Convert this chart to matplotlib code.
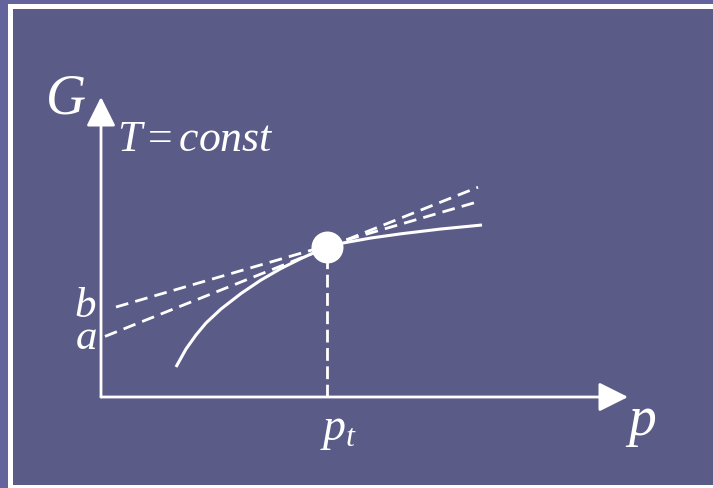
import matplotlib
matplotlib.use("Agg")
import matplotlib.pyplot as plt
from matplotlib.patches import Rectangle

plt.rcParams["mathtext.fontset"] = "custom"
plt.rcParams["mathtext.rm"] = "Liberation Serif"
plt.rcParams["mathtext.it"] = "Liberation Serif:italic"
plt.rcParams["font.family"] = ["Liberation Serif", "DejaVu Serif"]

# Schematic G(p) isotherm and two tangent-type straight lines
curve_p = [0.75, 0.85, 0.95, 1.05, 1.20, 1.40, 1.60, 1.80, 2.00, 2.26,
           2.42, 2.70, 3.00, 3.40, 3.81]
curve_G = [0.30, 0.48, 0.62, 0.74, 0.88, 1.035, 1.17, 1.285, 1.385, 1.50,
           1.54, 1.59, 1.632, 1.68, 1.72]

p_t, G_t = 2.26, 1.50

line_a_p = [0.04, 3.77]
line_a_G = [0.59 + 0.40 * 0.04, 0.59 + 0.40 * 3.77]
line_b_p = [0.15, 3.76]
line_b_G = [0.856 + 0.291 * 0.15, 0.856 + 0.291 * 3.76]

p_axis_end, G_axis_end = 5.27, 3.0

bg = "#5b5b88"
fig = plt.figure(figsize=(7.13, 4.89), dpi=100, facecolor="#64649c")
frame = Rectangle((9.5 / 713, 1.5 / 489), 1.05, 1 - 8 / 489,
                  transform=fig.transFigure, facecolor=bg,
                  edgecolor="white", lw=3.6, zorder=-10)
fig.patches.append(frame)

ax = fig.add_axes([0, 0, 1, 1], zorder=5)
ax.set_xlim(-1.01, 6.12)
ax.set_ylim(-0.91, 3.98)
ax.axis("off")
ax.patch.set_alpha(0)

arrow = dict(arrowstyle="-|>,head_length=0.4,head_width=0.2", lw=2,
             color="white", mutation_scale=45, shrinkA=0, shrinkB=0)
ax.annotate("", xy=(p_axis_end, 0), xytext=(0, 0), arrowprops=arrow)
ax.annotate("", xy=(0, G_axis_end), xytext=(0, 0), arrowprops=arrow)

ax.plot(curve_p, curve_G, color="white", lw=2.2, solid_capstyle="butt",
        solid_joinstyle="round")
ax.plot(line_a_p, line_a_G, color="white", lw=2, dashes=(4.6, 2.6))
ax.plot(line_b_p, line_b_G, color="white", lw=2, dashes=(4.6, 2.6))
ax.plot([p_t, p_t], [0, G_t], color="white", lw=2, dashes=(4.6, 2.0))
ax.scatter([p_t], [G_t], s=530, color="white", zorder=5, linewidths=0)

ax.text(-0.36, 2.84, "$G$", fontsize=40, color="white", ha="center", va="baseline")
ax.text(0.16, 2.47, "$T=const$", fontsize=31.5, color="white", ha="left", va="baseline")
ax.text(-0.155, 0.81, "$b$", fontsize=31, color="white", ha="center", va="baseline")
ax.text(-0.155, 0.49, "$a$", fontsize=31, color="white", ha="center", va="baseline")
ax.text(p_t - 0.07, -0.42, "$p_t$", fontsize=33, color="white", ha="left", va="baseline")
ax.text(5.40, -0.37, "$p$", fontsize=40, color="white", ha="center", va="baseline")

fig.savefig("out.png", dpi=100, facecolor=fig.get_facecolor())
